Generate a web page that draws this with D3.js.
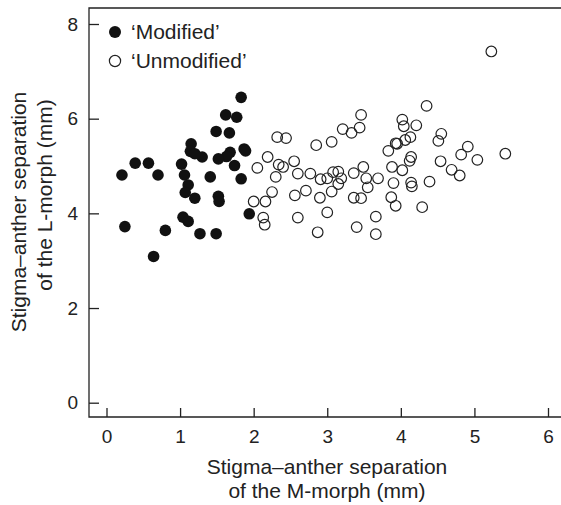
<!DOCTYPE html>
<html>
<head>
<meta charset="utf-8">
<script src="https://cdn.jsdelivr.net/npm/d3@7"></script>
<style>
  body { margin: 0; background: #fff; }
  text { font-family: "Liberation Sans", Arial, sans-serif; fill: #222; }
</style>
</head>
<body>
<svg id="chart" width="561" height="505"></svg>
<script>
// 'Modified' plants: [M-morph separation, L-morph separation]
var modified = [
  [1.83, 6.45], [1.62, 6.08], [1.77, 6.03], [1.49, 5.73], [1.67, 5.70],
  [1.15, 5.47], [1.14, 5.31], [1.87, 5.36], [1.89, 5.32], [1.30, 5.19],
  [1.20, 5.26], [1.68, 5.29], [1.63, 5.20], [1.52, 5.15], [0.39, 5.06],
  [0.57, 5.06], [1.02, 5.04], [1.74, 5.01], [0.21, 4.81], [0.70, 4.81],
  [1.06, 4.81], [1.41, 4.77], [1.83, 4.73], [1.11, 4.60], [1.07, 4.44],
  [1.20, 4.32], [1.52, 4.36], [1.53, 4.25], [1.94, 3.99], [1.04, 3.92],
  [1.11, 3.83], [0.25, 3.72], [0.80, 3.64], [1.27, 3.57], [1.49, 3.57],
  [0.64, 3.09]
];

// 'Unmodified' plants
var unmodified = [
  [2.32, 5.61], [2.44, 5.59], [2.85, 5.44], [3.06, 5.51], [3.21, 5.78],
  [3.33, 5.70], [3.44, 5.81], [3.46, 6.08], [2.19, 5.19], [2.05, 4.96],
  [2.34, 5.03], [2.40, 4.98], [2.55, 5.10], [2.30, 4.77], [2.60, 4.84],
  [2.77, 4.84], [2.91, 4.72], [3.00, 4.74], [3.08, 4.87], [3.15, 4.88],
  [3.19, 4.74], [3.15, 4.62], [3.06, 4.46], [3.36, 4.85], [3.49, 4.98],
  [3.53, 4.74], [3.69, 4.74], [3.55, 4.55], [2.25, 4.45], [2.00, 4.25],
  [2.16, 4.25], [2.56, 4.38], [2.71, 4.48], [2.90, 4.33], [3.36, 4.33],
  [3.46, 4.32], [2.13, 3.91], [2.15, 3.76], [2.60, 3.91], [3.00, 4.02],
  [2.87, 3.60], [3.40, 3.71], [3.66, 3.93], [3.66, 3.56], [3.83, 5.32],
  [3.93, 5.48], [3.88, 4.98], [3.90, 4.64], [3.87, 4.34], [3.93, 4.16],
  [5.23, 7.42], [4.35, 6.27], [4.02, 5.98], [4.04, 5.84], [4.21, 5.86],
  [4.13, 5.61], [4.06, 5.55], [3.95, 5.47], [4.55, 5.68], [4.51, 5.53],
  [4.91, 5.41], [4.82, 5.24], [5.04, 5.13], [5.42, 5.26], [4.14, 5.19],
  [4.12, 5.11], [4.02, 4.91], [4.54, 5.10], [4.69, 4.92], [4.80, 4.80],
  [4.14, 4.65], [4.15, 4.57], [4.39, 4.67], [4.29, 4.13]
];

var xTicks = [0, 1, 2, 3, 4, 5, 6];
var yTicks = [0, 2, 4, 6, 8];
var legendLabels = ["\u2018Modified\u2019", "\u2018Unmodified\u2019"];

var svg = d3.select("#chart");
var plotL = 89, plotT = 8, plotR = 561, plotB = 417;

var x = d3.scaleLinear().domain([0, 6]).range([106.5, 548]);
var y = d3.scaleLinear().domain([0, 8]).range([402.7, 24]);

// frame: top, left, bottom (no right side visible)
svg.append("path")
  .attr("d", "M" + plotR + "," + plotT + "H" + plotL + "V" + plotB + "H" + plotR)
  .attr("fill", "none").attr("stroke", "#222").attr("stroke-width", 1.3);

var xAxis = svg.append("g").attr("transform", "translate(0," + plotB + ")")
  .call(d3.axisBottom(x).tickValues(xTicks).tickFormat(d3.format("d"))
    .tickSizeInner(-9).tickSizeOuter(0).tickPadding(13));
var yAxis = svg.append("g").attr("transform", "translate(" + plotL + ",0)")
  .call(d3.axisLeft(y).tickValues(yTicks).tickFormat(d3.format("d"))
    .tickSizeInner(-10).tickSizeOuter(0).tickPadding(11));

[xAxis, yAxis].forEach(function(g) {
  g.select(".domain").remove();
  g.selectAll(".tick line").attr("stroke", "#222").attr("stroke-width", 1.3);
  g.selectAll(".tick text").attr("font-size", 19).attr("fill", "#222")
    .style("font-family", "'Liberation Sans', Arial, sans-serif");
});

// points
svg.append("g").selectAll("circle").data(unmodified).enter().append("circle")
  .attr("cx", function(d) { return x(d[0]); })
  .attr("cy", function(d) { return y(d[1]); })
  .attr("r", 5.3)
  .attr("fill", "none").attr("stroke", "#222").attr("stroke-width", 1.2);

svg.append("g").selectAll("circle").data(modified).enter().append("circle")
  .attr("cx", function(d) { return x(d[0]); })
  .attr("cy", function(d) { return y(d[1]); })
  .attr("r", 5.8)
  .attr("fill", "#111");

// legend
var leg = svg.append("g");
leg.append("circle").attr("cx", 115).attr("cy", 32).attr("r", 6).attr("fill", "#111");
leg.append("circle").attr("cx", 115).attr("cy", 61).attr("r", 5.6).attr("fill", "none")
  .attr("stroke", "#222").attr("stroke-width", 1.2);
leg.selectAll("text").data(legendLabels).enter().append("text")
  .attr("x", 131).attr("y", function(d, i) { return 38.5 + i * 29; })
  .attr("font-size", 21).text(function(d) { return d; });

// axis titles
svg.append("text").attr("x", 327).attr("y", 474).attr("text-anchor", "middle")
  .attr("font-size", 21).text("Stigma\u2013anther separation");
svg.append("text").attr("x", 327).attr("y", 498).attr("text-anchor", "middle")
  .attr("font-size", 21).text("of the M-morph (mm)");

svg.append("text").attr("transform", "translate(26,212) rotate(-90)").attr("text-anchor", "middle")
  .attr("font-size", 21).text("Stigma\u2013anther separation");
svg.append("text").attr("transform", "translate(52,195) rotate(-90)").attr("text-anchor", "middle")
  .attr("font-size", 21).text("of the L-morph (mm)");
</script>
</body>
</html>
